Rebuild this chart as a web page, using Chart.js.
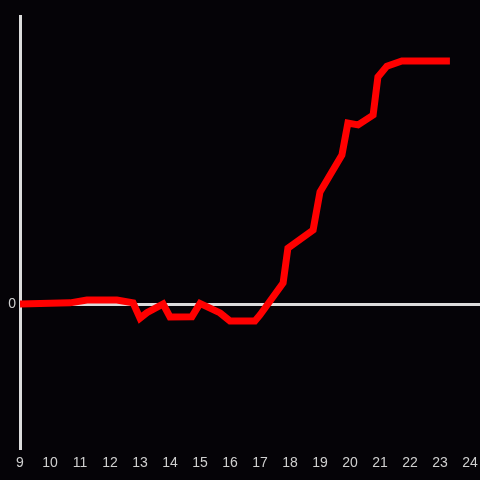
<!DOCTYPE html>
<html>
<head>
<meta charset="utf-8">
<script src="https://cdn.jsdelivr.net/npm/chart.js@4/dist/chart.umd.min.js"></script>
<style>
  html, body { margin: 0; padding: 0; background: #050307; }
  #wrap { width: 480px; height: 480px; }
</style>
</head>
<body>
<div id="wrap"><canvas id="lineChart" width="480" height="480"></canvas></div>
<script>
// hour of day and value
const hours = [9.0, 10.67, 11.23, 12.23, 12.77, 13.0, 13.23, 13.77, 14.0, 14.73, 15.0, 15.67, 16.0, 16.83, 17.0, 17.77, 17.93, 18.77, 19.0, 19.73, 19.93, 20.27, 20.77, 20.93, 21.23, 21.73, 23.33];
const values = [0, 0.4, 1.4, 1.4, 0.4, -4.9, -3.0, 0, -4.5, -4.4, 0.2, -3.1, -5.9, -5.9, -3.8, 7.3, 19.4, 25.7, 38.9, 51.7, 62.8, 62.2, 65.6, 78.8, 82.6, 84.4, 84.4];
const xTicks = [9, 10, 11, 12, 13, 14, 15, 16, 17, 18, 19, 20, 21, 22, 23, 24];

const axisColor = '#dcdcdc';
const textColor = '#cfcfcf';

const points = hours.map((h, i) => ({ x: h, y: values[i] }));

const ctx = document.getElementById('lineChart').getContext('2d');
const myChart = new Chart(ctx, {
    type: 'line',
    data: {
        datasets: [{
            data: points,
            borderColor: '#ff0000',
            borderWidth: 7,
            pointRadius: 0,
            tension: 0,
            fill: false
        }]
    },
    options: {
        responsive: false,
        animation: false,
        layout: { padding: { top: 16, right: 0, left: 0, bottom: 0 } },
        plugins: { legend: { display: false }, tooltip: { enabled: false } },
        scales: {
            x: {
                type: 'linear',
                min: 9,
                max: 24.333,
                afterBuildTicks: scale => {
                    scale.ticks = xTicks.map(v => ({ value: v }));
                },
                afterFit: scale => {
                    scale.height = 32;
                    scale.paddingLeft = 0;
                    scale.paddingRight = 0; // let the zero line run to the edge
                },
                grid: { display: false, drawTicks: false },
                border: { display: false },
                ticks: {
                    color: textColor,
                    padding: 7,
                    maxRotation: 0,
                    autoSkip: false,
                    font: { family: 'Liberation Sans', size: 14 }
                }
            },
            y: {
                min: -50,
                max: 100,
                afterFit: scale => { scale.width = 20; },
                grid: {
                    drawTicks: false,
                    lineWidth: 3,
                    color: c => (c.tick && c.tick.value === 0) ? axisColor : 'rgba(0,0,0,0)'
                },
                border: { display: true, color: axisColor, width: 3 },
                ticks: {
                    stepSize: 50,
                    color: textColor,
                    padding: 4,
                    font: { family: 'Liberation Sans', size: 14 },
                    callback: v => v === 0 ? '0' : ''
                }
            }
        }
    }
});
</script>
</body>
</html>
